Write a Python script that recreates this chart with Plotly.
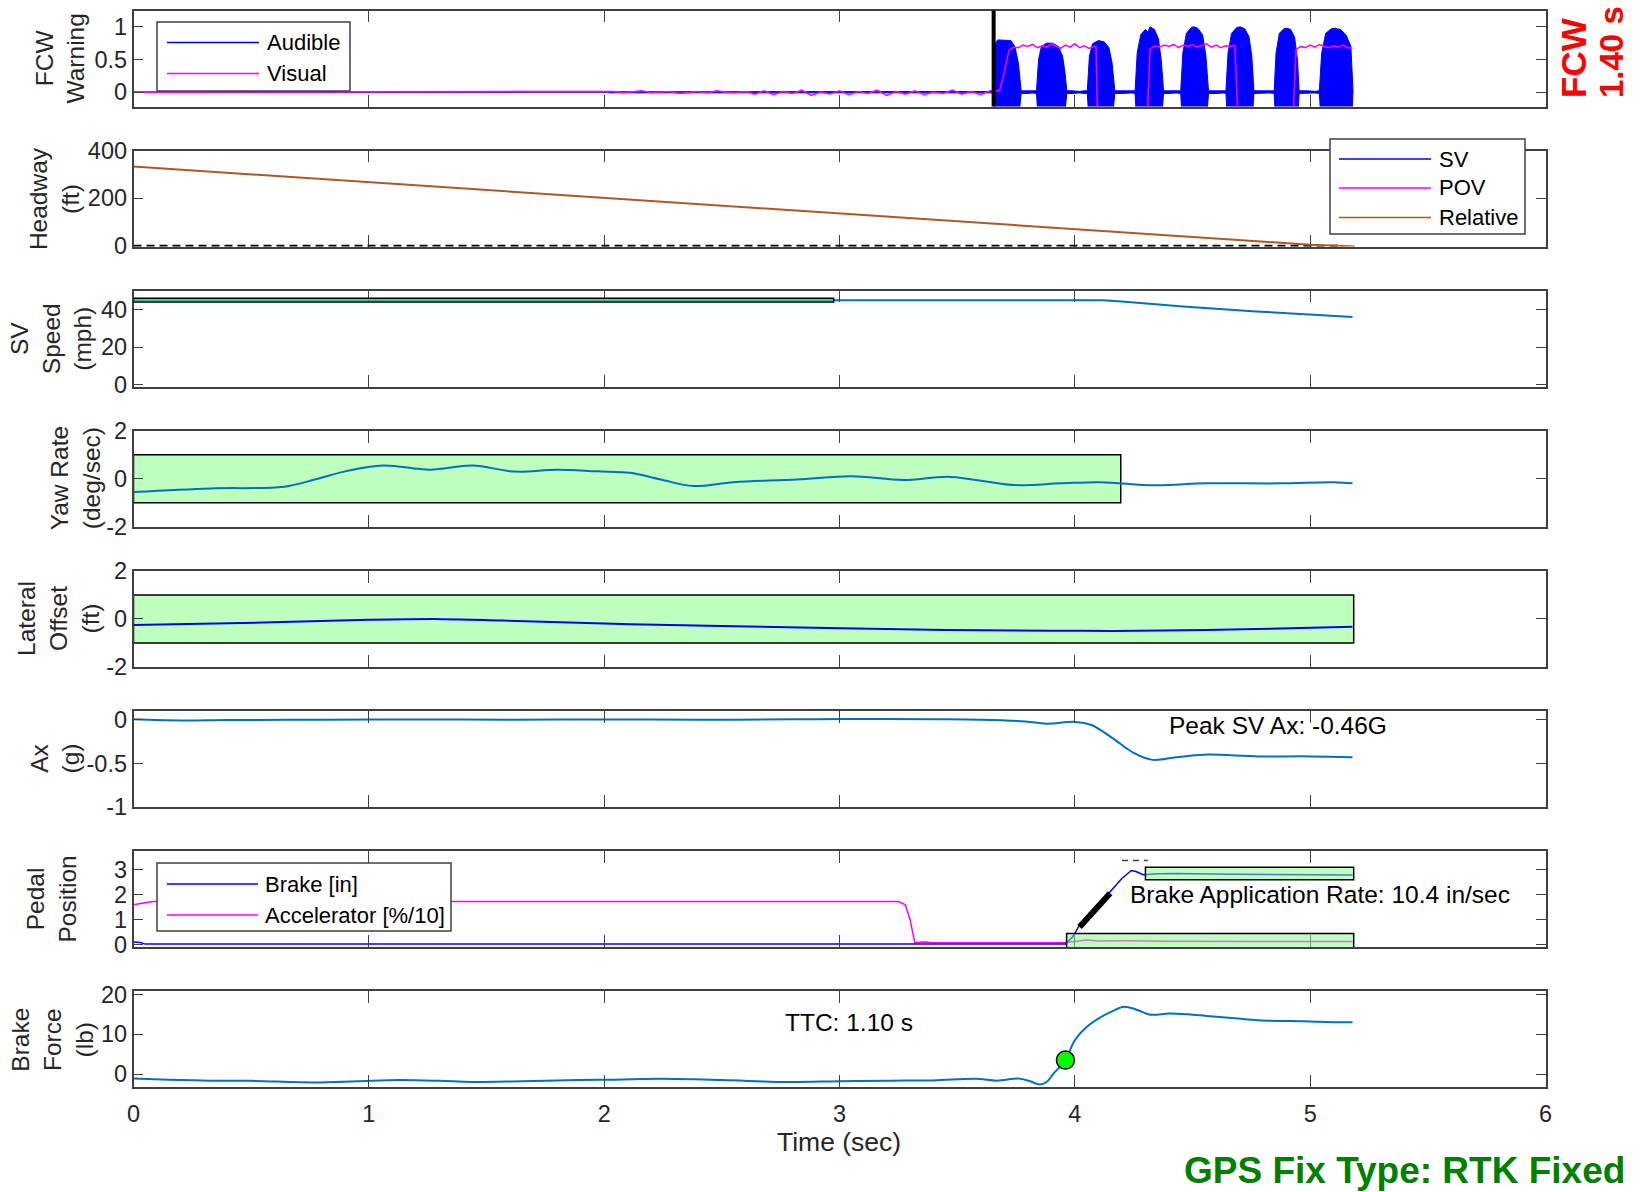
import plotly.graph_objects as go

W, H = 1645, 1192

# ---------------- data ----------------
# FCW warning: audible burst envelope and visual signal
aud_t = [0.0, 2.02, 2.021, 3.655,
         3.656, 3.659, 3.672, 3.700, 3.728, 3.745, 3.760, 3.772,
         3.800, 3.820,
         3.837, 3.846, 3.858, 3.880, 3.905, 3.930, 3.948, 3.958, 3.966,
         3.990, 4.020, 4.040,
         4.053, 4.062, 4.075, 4.100, 4.125, 4.145, 4.158, 4.170,
         4.200, 4.240,
         4.256, 4.265, 4.280, 4.300, 4.310, 4.320, 4.338, 4.355, 4.367, 4.377,
         4.400, 4.430,
         4.450, 4.459, 4.474, 4.495, 4.505, 4.522, 4.543, 4.557, 4.568,
         4.600, 4.630,
         4.642, 4.651, 4.666, 4.688, 4.703, 4.722, 4.740, 4.752, 4.761,
         4.790, 4.830,
         4.847, 4.855, 4.869, 4.888, 4.900, 4.917, 4.934, 4.946, 4.953,
         4.990, 5.020,
         5.039, 5.049, 5.066, 5.090, 5.105, 5.128, 5.152, 5.173, 5.182]
aud_amp = [0.0, 0.0, 0.01, 0.01,
           0.02, 0.72, 0.80, 0.80, 0.79, 0.70, 0.45, 0.02,
           0.02, 0.012,
           0.02, 0.50, 0.70, 0.75, 0.75, 0.70, 0.55, 0.30, 0.02,
           0.02, 0.012, 0.02,
           0.02, 0.55, 0.74, 0.79, 0.77, 0.68, 0.45, 0.02,
           0.02, 0.012,
           0.02, 0.60, 0.88, 0.96, 0.92, 1.00, 0.96, 0.82, 0.50, 0.02,
           0.02, 0.012,
           0.02, 0.60, 0.90, 0.99, 1.00, 0.98, 0.88, 0.55, 0.02,
           0.02, 0.012,
           0.02, 0.60, 0.90, 0.99, 1.00, 0.97, 0.85, 0.55, 0.02,
           0.02, 0.012,
           0.02, 0.60, 0.90, 0.97, 0.98, 0.96, 0.84, 0.50, 0.02,
           0.02, 0.012,
           0.02, 0.60, 0.90, 0.97, 0.98, 0.96, 0.88, 0.70, 0.02]

vis_t = [0.0, 2.00, 2.04, 2.08, 2.12, 2.16, 2.20, 2.24, 2.28, 2.32, 2.36, 2.40,
         2.44, 2.48, 2.52, 2.56, 2.60, 2.64, 2.68, 2.72, 2.76, 2.80, 2.84, 2.88,
         2.92, 2.96, 3.00, 3.04, 3.08, 3.12, 3.16, 3.20, 3.24, 3.28, 3.32, 3.36,
         3.40, 3.44, 3.48, 3.52, 3.56, 3.60, 3.64, 3.68,
         3.70, 3.72, 3.74, 3.76, 3.78, 3.80, 3.82, 3.84, 3.86, 3.88, 3.90, 3.92,
         3.94, 3.96, 3.98, 4.00, 4.02, 4.04, 4.06, 4.08, 4.09, 4.10, 4.30,
         4.32, 4.34, 4.36, 4.38, 4.40, 4.42, 4.44, 4.46, 4.48, 4.50, 4.52, 4.54,
         4.56, 4.58, 4.60, 4.62, 4.64, 4.66, 4.68, 4.70, 4.92,
         4.94, 4.96, 4.98, 5.00, 5.02, 5.04, 5.06, 5.08, 5.10, 5.12, 5.14, 5.16, 5.18]
vis_v = [0.0, 0.0, 0.01, -0.01, 0.0, 0.02, -0.01, 0.0, 0.01, -0.02, 0.0, 0.01,
         -0.01, 0.02, 0.0, -0.01, 0.01, -0.03, 0.02, -0.04, 0.01, -0.02, 0.03, -0.05,
         0.0, -0.03, 0.02, -0.04, 0.01, -0.02, 0.03, -0.05, 0.01, -0.03, 0.02, -0.04,
         0.0, -0.02, 0.03, -0.03, 0.01, -0.04, 0.02, 0.02,
         0.30, 0.64, 0.69, 0.68, 0.72, 0.70, 0.73, 0.68, 0.71, 0.69, 0.74, 0.70,
         0.67, 0.72, 0.69, 0.74, 0.68, 0.71, 0.67, 0.70, 0.70, -1.0, -1.0,
         0.66, 0.71, 0.69, 0.72, 0.70, 0.73, 0.68, 0.72, 0.70, 0.73, 0.69, 0.71,
         0.74, 0.69, 0.72, 0.68, 0.71, 0.70, 0.72, -1.0, -1.0,
         0.65, 0.70, 0.68, 0.72, 0.69, 0.73, 0.70, 0.68, 0.71, 0.69, 0.72, 0.68, 0.67]
fcw_onset = 3.655
fcw_ttc = "1.40 s"

# Headway (ft)
hw_t = [0.0, 1.0, 2.0, 3.0, 4.0, 4.5, 5.0, 5.19]
hw_rel = [333, 268, 202, 137, 71, 38, 5, -3]
hw_ref_t = [0.0, 5.14]
hw_ref_v = [0, 0]

# SV speed (mph)
spd_t = [0.0, 0.5, 1.0, 1.5, 2.0, 2.5, 3.0, 3.5, 4.0, 4.12, 4.2, 4.46, 4.77, 5.0, 5.18]
spd_v = [44.9, 44.9, 44.8, 44.9, 44.8, 44.9, 45.0, 45.0, 45.0, 44.9, 44.3, 41.6, 39.0, 37.3, 36.0]
spd_band_t = [0.0, 2.975]
spd_band_v = [44.0, 46.0]

# Yaw rate (deg/sec)
yaw_t = [0.0, 0.33, 0.64, 0.77, 0.90, 1.06, 1.26, 1.44, 1.62, 1.80, 1.97, 2.11, 2.24,
         2.38, 2.55, 2.82, 3.05, 3.27, 3.47, 3.74, 3.94, 4.11, 4.34, 4.56, 4.87, 5.10, 5.18]
yaw_v = [-0.55, -0.40, -0.33, -0.03, 0.31, 0.55, 0.38, 0.55, 0.30, 0.38, 0.31, 0.25, -0.03,
         -0.30, -0.14, -0.03, 0.11, -0.05, 0.08, -0.26, -0.19, -0.14, -0.27, -0.19, -0.19, -0.14, -0.19]
yaw_band_t = [0.0, 4.195]
yaw_band_v = [-1.0, 1.0]

# Lateral offset (ft)
lat_t = [0.0, 0.55, 1.0, 1.31, 1.57, 2.11, 2.78, 3.45, 3.89, 4.16, 4.56, 4.87, 5.18]
lat_v = [-0.25, -0.15, -0.04, -0.01, -0.07, -0.22, -0.35, -0.46, -0.49, -0.50, -0.46, -0.40, -0.33]
lat_band_t = [0.0, 5.185]
lat_band_v = [-1.0, 1.0]

# Longitudinal acceleration (g)
ax_t = [0.0, 0.2, 0.4, 0.8, 1.2, 1.6, 2.0, 2.4, 2.8, 3.0, 3.4, 3.6, 3.79, 3.88, 4.0,
        4.07, 4.16, 4.25, 4.33, 4.43, 4.55, 4.78, 5.0, 5.18]
ax_v = [0.005, -0.008, -0.004, 0.0, 0.003, 0.0, 0.004, 0.0, 0.005, 0.008, 0.005, 0.0,
        -0.02, -0.045, -0.025, -0.06, -0.21, -0.38, -0.46, -0.43, -0.40, -0.42, -0.42, -0.43]
peak_ax = -0.46

# Pedal position
brk_t = [0.0, 0.03, 0.05, 3.96, 3.99, 4.02, 4.09, 4.15, 4.20, 4.24, 4.26, 4.29,
         4.35, 4.43, 4.66, 4.90, 5.18]
brk_v = [0.10, 0.08, 0.02, 0.02, 0.30, 0.78, 1.55, 2.12, 2.65, 2.97, 2.93, 2.80,
         2.84, 2.85, 2.82, 2.81, 2.79]
acc_t = [0.0, 0.03, 0.08, 3.25, 3.28, 3.30, 3.32, 3.36, 3.40, 3.50, 3.95, 4.00,
         4.05, 4.10, 4.20, 4.40, 4.55, 4.80, 5.18]
acc_v = [1.60, 1.66, 1.73, 1.73, 1.60, 1.00, 0.08, 0.10, 0.07, 0.07, 0.07, 0.12,
         0.18, 0.14, 0.15, 0.13, 0.12, 0.12, 0.12]
rate_t0, rate_t1 = 4.02, 4.15
rate_y0 = 0.71
brake_rate = 10.4  # in/sec
peak_mark_t = [4.20, 4.31]
peak_mark_v = [3.37, 3.37]
brk_hold_t = [4.30, 5.185]
brk_hold_v = [2.60, 3.10]
acc_off_t = [3.965, 5.185]
acc_off_v = [-0.45, 0.45]

# Brake force (lb)
bf_t = [0.0, 0.15, 0.33, 0.5, 0.77, 0.95, 1.13, 1.3, 1.44, 1.65, 1.89, 2.05, 2.24,
        2.5, 2.78, 3.0, 3.22, 3.4, 3.58, 3.67, 3.76, 3.81, 3.85, 3.88, 3.91, 3.96,
        4.0, 4.05, 4.11, 4.16, 4.21, 4.26, 4.32, 4.4, 4.48, 4.56, 4.68, 4.78, 4.9,
        5.0, 5.1, 5.18]
bf_v = [-1.1, -1.4, -1.65, -1.7, -2.1, -1.8, -1.5, -1.7, -2.0, -1.8, -1.5, -1.4, -1.2,
        -1.5, -2.0, -1.8, -1.65, -1.6, -1.2, -1.65, -1.1, -1.8, -2.6, -2.0, 0.15, 3.5,
        8.5, 11.8, 14.3, 15.8, 16.9, 16.2, 14.9, 15.2, 15.0, 14.6, 14.0, 13.5, 13.3,
        13.2, 13.0, 13.0]
brake_onset_t = 3.96
brake_onset_f = 3.5
ttc_text = "TTC: 1.10 s"

# panel axis settings
y_titles = ["FCW<br>Warning", "Headway<br>(ft)", "SV<br>Speed<br>(mph)", "Yaw Rate<br>(deg/sec)",
            "Lateral<br>Offset<br>(ft)", "Ax<br>(g)", "Pedal<br>Position", "Brake<br>Force<br>(lb)"]
y_ranges = [[-0.22, 1.25], [-3, 400], [-1, 50], [-2, 2], [-2, 2], [-1, 0.1], [-0.1, 3.75], [-3.3, 20.8]]
y_tickvals = [[0, 0.5, 1], [0, 200, 400], [0, 20, 40], [-2, 0, 2], [-2, 0, 2],
              [-1, -0.5, 0], [0, 1, 2, 3], [0, 10, 20]]
y_ticktext = [["0", "0.5", "1"], ["0", "200", "400"], ["0", "20", "40"], ["-2", "0", "2"],
              ["-2", "0", "2"], ["-1", "-0.5", "0"], ["0", "1", "2", "3"], ["0", "10", "20"]]
x_tickvals = [0, 1, 2, 3, 4, 5, 6]

# ---------------- styling ----------------
FONT = "Liberation Sans, Arial, Helvetica, sans-serif"
AX_COL = "#404040"
TXT_COL = "#262626"
MBLUE = "#0072BD"
BLUE = "#0000FF"
MAGENTA = "#FF00FF"
BROWN = "rgb(170,90,40)"
BOX_FILL = "rgba(128,255,128,0.5)"
TICK_SIZE = 23.5
LABEL_SIZE = 24.5
NOTE_SIZE = 24.5

PLOT_L, PLOT_R = 133.5, 1545.5
TOP0, STEP, PH = 10.5, 140.1, 96.0
title_x = [60, 54.5, 51.5, 75.5, 59, 54.5, 51.4, 52.5]


def fx(px):
    return px / W


def fy(px):
    return 1 - px / H


fig = go.Figure()


def ax_ids(i):
    return ("x" if i == 1 else f"x{i}"), ("y" if i == 1 else f"y{i}")


def add_line(i, x, y, color, width=2.0, shape="linear", dash="solid"):
    xa, ya = ax_ids(i)
    fig.add_trace(go.Scatter(x=x, y=y, mode="lines", xaxis=xa, yaxis=ya,
                             line=dict(color=color, width=width, shape=shape, dash=dash),
                             showlegend=False, hoverinfo="skip"))


def add_box(i, tx, vy, layer="above"):
    xa, ya = ax_ids(i)
    fig.add_shape(type="rect", xref=xa, yref=ya, x0=tx[0], x1=tx[1], y0=vy[0], y1=vy[1],
                  fillcolor=BOX_FILL, line=dict(color="black", width=1.5), layer=layer)


# Panel 1: FCW warning
xa, ya = ax_ids(1)
fig.add_trace(go.Scatter(x=aud_t + aud_t[::-1], y=aud_amp + [-a for a in aud_amp[::-1]],
                         mode="lines", fill="toself", fillcolor=BLUE,
                         line=dict(color=BLUE, width=1), xaxis=xa, yaxis=ya,
                         showlegend=False, hoverinfo="skip"))
add_line(1, vis_t, vis_v, MAGENTA, width=1.5)
fig.add_shape(type="line", xref="x", yref="y domain", x0=fcw_onset, x1=fcw_onset, y0=0, y1=1,
              line=dict(color="black", width=4))

# Panel 2: headway
add_line(2, hw_ref_t, hw_ref_v, "black", width=2.2, dash="8px,5px")
add_line(2, hw_t, hw_rel, BROWN, width=2)

# Panel 3: SV speed
add_line(3, spd_t, spd_v, MBLUE, width=2)
add_box(3, spd_band_t, spd_band_v)

# Panel 4: yaw rate
add_box(4, yaw_band_t, yaw_band_v, layer="below")
add_line(4, yaw_t, yaw_v, MBLUE, width=2, shape="spline")

# Panel 5: lateral offset
add_box(5, lat_band_t, lat_band_v, layer="below")
add_line(5, lat_t, lat_v, BLUE, width=2, shape="spline")

# Panel 6: Ax
add_line(6, ax_t, ax_v, MBLUE, width=2, shape="spline")
fig.add_annotation(xref="x6", yref="y6", x=4.39, y=-0.07, xanchor="left", yanchor="middle",
                   text=f"Peak SV Ax: {peak_ax:.2f}G", showarrow=False,
                   font=dict(family=FONT, size=NOTE_SIZE, color="black"))

# Panel 7: pedal position
add_line(7, acc_t, acc_v, MAGENTA, width=1.5)
add_line(7, brk_t, brk_v, BLUE, width=1.5)
add_line(7, [rate_t0, rate_t1], [rate_y0, rate_y0 + brake_rate * (rate_t1 - rate_t0)],
         "black", width=6)
add_line(7, peak_mark_t, peak_mark_v, "#404040", width=1.5, dash="6px,5px")
add_box(7, brk_hold_t, brk_hold_v)
add_box(7, acc_off_t, acc_off_v)
fig.add_annotation(xref="x7", yref="y7", x=4.225, y=2.0, xanchor="left", yanchor="middle",
                   text=f"Brake Application Rate: {brake_rate} in/sec", showarrow=False,
                   font=dict(family=FONT, size=NOTE_SIZE, color="black"))

# Panel 8: brake force
add_line(8, bf_t, bf_v, MBLUE, width=2, shape="spline")
fig.add_trace(go.Scatter(x=[brake_onset_t], y=[brake_onset_f], mode="markers", xaxis="x8", yaxis="y8",
                         marker=dict(size=18, color="#00FF00", line=dict(color="black", width=1.5)),
                         showlegend=False, hoverinfo="skip"))
fig.add_annotation(xref="x8", yref="y8", x=3.04, y=12.9, text=ttc_text, showarrow=False,
                   font=dict(family=FONT, size=NOTE_SIZE, color="black"))

# ---------------- axes ----------------
layout = {}
for i in range(1, 9):
    top = TOP0 + STEP * (i - 1)
    dom_y = [fy(top + PH), fy(top)]
    xname = "xaxis" if i == 1 else f"xaxis{i}"
    yname = "yaxis" if i == 1 else f"yaxis{i}"
    xa, ya = ax_ids(i)
    layout[xname] = dict(domain=[fx(PLOT_L), fx(PLOT_R)], anchor=ya, range=[0, 6],
                         tickvals=x_tickvals, ticktext=[str(v) for v in x_tickvals],
                         showticklabels=(i == 8), ticks="inside", ticklen=12, tickwidth=1.3,
                         tickcolor=AX_COL, showline=True, linecolor=AX_COL, linewidth=1.5,
                         mirror="ticks", showgrid=False, zeroline=False,
                         ticklabelstandoff=5, automargin=False,
                         layer="below traces" if i == 2 else "above traces",
                         tickfont=dict(family=FONT, size=TICK_SIZE, color=TXT_COL))
    layout[yname] = dict(domain=dom_y, anchor=xa, range=y_ranges[i - 1],
                         tickvals=y_tickvals[i - 1], ticktext=y_ticktext[i - 1],
                         ticks="inside", ticklen=10, tickwidth=1.3, tickcolor=AX_COL,
                         showline=True, linecolor=AX_COL, linewidth=1.5, mirror="ticks",
                         showgrid=False, zeroline=False, automargin=False,
                         tickfont=dict(family=FONT, size=TICK_SIZE, color=TXT_COL))
    fig.add_annotation(xref="paper", yref="paper", x=fx(title_x[i - 1]), y=fy(top + PH / 2),
                       text=y_titles[i - 1], textangle=-90, showarrow=False,
                       xanchor="center", yanchor="middle",
                       font=dict(family=FONT, size=LABEL_SIZE, color=TXT_COL))

fig.update_layout(**layout)


# ---------------- legends ----------------
def draw_legend(box, rows, line_x, text_x):
    x0, y0, x1, y1 = box
    fig.add_shape(type="rect", xref="paper", yref="paper", x0=fx(x0), x1=fx(x1), y0=fy(y1), y1=fy(y0),
                  fillcolor="white", line=dict(color=AX_COL, width=1.5), layer="above")
    for label, color, yy in rows:
        fig.add_shape(type="line", xref="paper", yref="paper", x0=fx(line_x[0]), x1=fx(line_x[1]),
                      y0=fy(yy), y1=fy(yy), line=dict(color=color, width=1.5), layer="above")
        fig.add_annotation(xref="paper", yref="paper", x=fx(text_x), y=fy(yy), text=label,
                           showarrow=False, xanchor="left", yanchor="middle",
                           font=dict(family=FONT, size=22, color="black"))


draw_legend((157, 22, 350, 91), [("Audible", BLUE, 42.5), ("Visual", MAGENTA, 73.5)],
            (167, 259), 265)
draw_legend((1330, 139, 1525, 234), [("SV", BLUE, 159), ("POV", MAGENTA, 188),
                                     ("Relative", BROWN, 217.5)], (1339, 1431), 1437)
draw_legend((157, 863, 451, 931), [("Brake [in]", BLUE, 884), ("Accelerator [%/10]", MAGENTA, 915)],
            (167, 258), 263)

# ---------------- figure texts ----------------
fig.add_annotation(xref="paper", yref="paper", x=fx(839), y=fy(1142), text="Time (sec)",
                   showarrow=False, xanchor="center", yanchor="middle",
                   font=dict(family=FONT, size=26.5, color=TXT_COL))
fig.add_annotation(xref="paper", yref="paper", x=fx(1627), y=fy(1170), text="<b>GPS Fix Type: RTK Fixed</b>",
                   showarrow=False, xanchor="right", yanchor="middle",
                   font=dict(family=FONT, size=37, color="#008000"))
fig.add_annotation(xref="paper", yref="paper", x=fx(1573), y=fy(100), text="<b>FCW</b>",
                   showarrow=False, textangle=-90, xanchor="center", yanchor="bottom",
                   font=dict(family=FONT, size=35, color="#FF0000"))
fig.add_annotation(xref="paper", yref="paper", x=fx(1611), y=fy(100), text=f"<b>{fcw_ttc}</b>",
                   showarrow=False, textangle=-90, xanchor="center", yanchor="bottom",
                   font=dict(family=FONT, size=33, color="#FF0000"))

fig.update_layout(width=W, height=H, margin=dict(l=0, r=0, t=0, b=0, autoexpand=False),
                  paper_bgcolor="white", plot_bgcolor="white", showlegend=False,
                  font=dict(family=FONT, color=TXT_COL))

fig.write_html("out.html")
